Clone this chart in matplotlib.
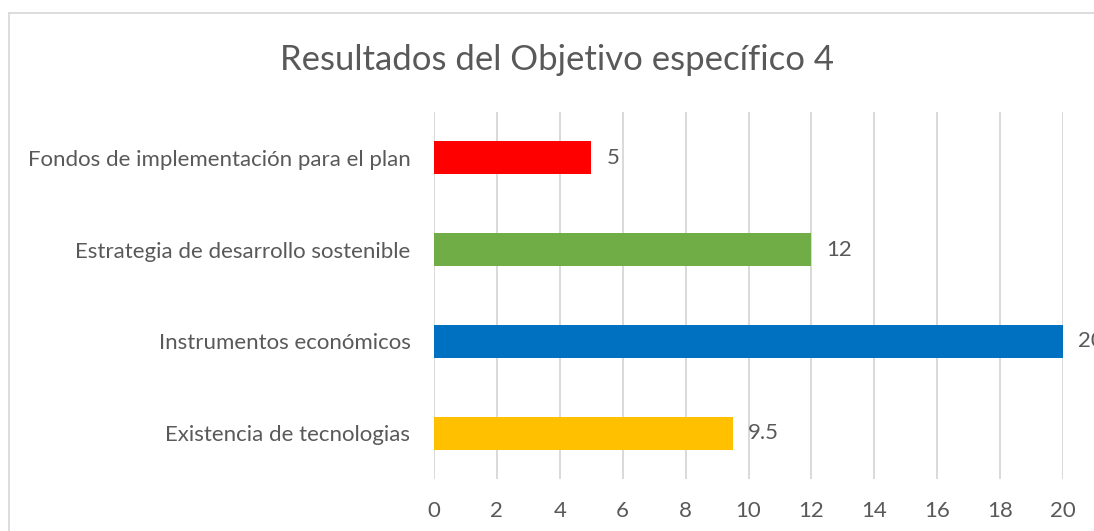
"""Resultados del Objetivo específico 4 - barras horizontales."""

import matplotlib.pyplot as plt
from matplotlib.lines import Line2D

CATEGORIES = [
    "Existencia de tecnologias",
    "Instrumentos económicos",
    "Estrategia de desarrollo sostenible",
    "Fondos de implementación para el plan",
]
VALUES = [9.5, 20, 12, 5]
VALUE_LABELS = ["9.5", "20", "12", "5"]
COLORS = ["#FFC000", "#0070C0", "#70AD47", "#FF0000"]
X_TICKS = list(range(0, 21, 2))

TEXT = "#595959"
GRID = "#D9D9D9"

plt.rcParams["font.family"] = ["Lato", "DejaVu Sans"]

W, H = 1094, 531
fig = plt.figure(figsize=(W / 100, H / 100), dpi=100)
fig.patch.set_facecolor("white")

# marco del gráfico: solo bordes superior e izquierdo quedan dentro de la imagen
x0, y0 = 9 / W, 1 - 13 / H
fig.add_artist(Line2D([x0, 1.0], [y0, y0], transform=fig.transFigure,
                      color=GRID, linewidth=1.3))
fig.add_artist(Line2D([x0, x0], [0.0, y0], transform=fig.transFigure,
                      color=GRID, linewidth=1.3))

ax = fig.add_axes([434 / W, 1 - 479 / H, (1063 - 434) / W, (479 - 112) / H])
y = range(len(CATEGORIES))
ax.barh(y, VALUES, height=0.36, color=COLORS, zorder=3)

ax.set_xlim(0, 20)
ax.set_ylim(-0.5, len(CATEGORIES) - 0.5)
ax.set_xticks(X_TICKS)
ax.set_yticks(list(y))
ax.set_yticklabels(CATEGORIES)
ax.tick_params(axis="both", length=0, labelsize=16, colors=TEXT)
ax.tick_params(axis="y", pad=17)
ax.tick_params(axis="x", pad=15.5)
ax.xaxis.grid(True, color=GRID, linewidth=1.4, zorder=0)
for side in ("top", "right", "bottom", "left"):
    ax.spines[side].set_visible(False)

for yi, v, lab in zip(y, VALUES, VALUE_LABELS):
    ax.annotate(lab, (v, yi), xytext=(11, 0), textcoords="offset points",
                ha="left", va="center", fontsize=16, color=TEXT,
                annotation_clip=False)

fig.text(557 / W, 1 - 60 / H, "Resultados del Objetivo específico 4",
         ha="center", va="center", fontsize=25, color=TEXT)

fig.savefig("out.png", dpi=100)
